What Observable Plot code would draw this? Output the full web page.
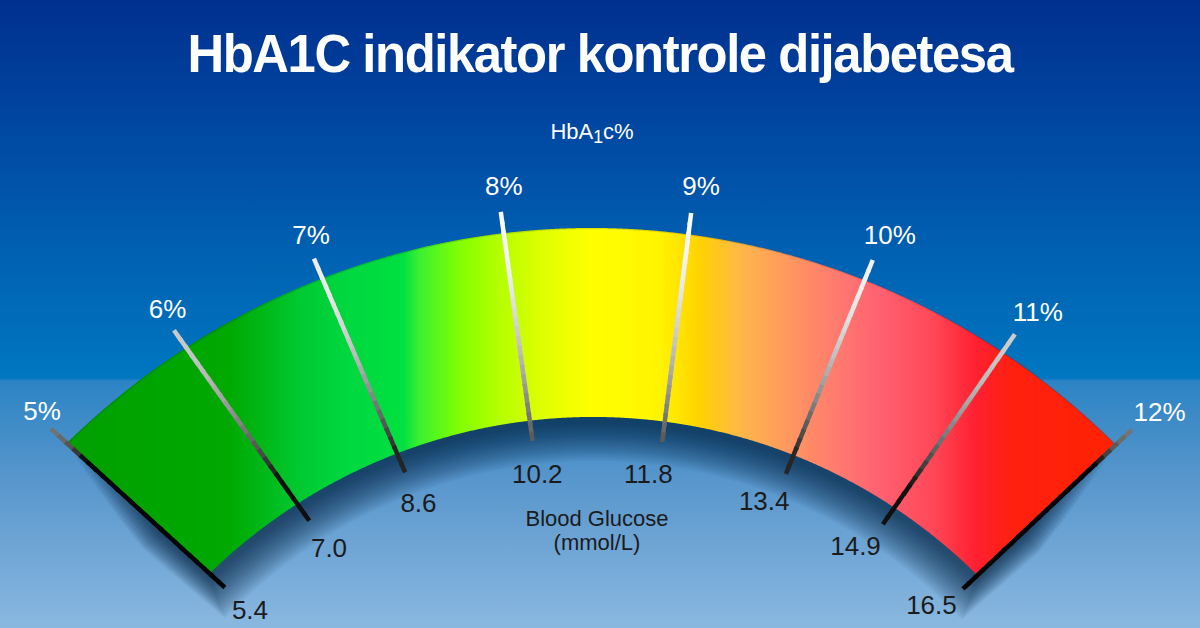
<!DOCTYPE html>
<html>
<head>
<meta charset="utf-8">
<script src="https://cdn.jsdelivr.net/npm/d3@7"></script>
<script src="https://cdn.jsdelivr.net/npm/@observablehq/plot@0.6"></script>
<style>
  html, body { margin: 0; padding: 0; width: 1200px; height: 628px; overflow: hidden; }
  body {
    background: linear-gradient(to bottom, #00308f 0px, #0048a2 130px, #0062b2 260px, #0077c0 378px, #2c84c4 381px, #5896cc 480px, #8ab8e0 628px);
    font-family: "Liberation Sans", Arial, sans-serif;
  }
  figure { margin: 0 !important; padding: 0; }
  figure > h2 {
    margin: 0 !important; height: 106px; line-height: 106px !important;
    font-size: 54px !important; font-weight: bold !important; color: #fff !important;
    text-align: center; letter-spacing: -1.5px; transform: scaleX(0.94);
    font-family: "Liberation Sans", Arial, sans-serif;
  }
  figure > h3 {
    margin: 0 !important; height: 51px; line-height: 51px !important;
    font-size: 22px !important; font-weight: normal !important; color: #fff !important;
    text-align: center; padding-right: 16px;
    font-family: "Liberation Sans", Arial, sans-serif;
  }
  figure > h3 sub { font-size: 0.8em; vertical-align: -0.2em; line-height: 0; }
  svg { display: block; }
</style>
</head>
<body>
<div id="chart"></div>
<script>
// ---------------- data ----------------
const hba1c = [5, 6, 7, 8, 9, 10, 11, 12];                       // HbA1c %
const glucose = [5.4, 7.0, 8.6, 10.2, 11.8, 13.4, 14.9, 16.5];   // mmol/L
const titleText = "HbA1C indikator kontrole dijabetesa";
const topAxisTitle = ["HbA", "1", "c%"];
const bottomAxisTitle = ["Blood Glucose", "(mmol/L)"];

// ---------------- style / layout ----------------
const arcColors  = ["#00a000", "#00a800", "#00c830", "#00d840", "#00e040", "#3af030", "#80ff00", "#b4ff00", "#dcff00", "#ffff00", "#fff400", "#ffd200", "#ffb848", "#ff9660", "#ff7870", "#ff6070", "#ff4858", "#ff2030", "#ff2010", "#ff2200"];
const arcOffsets = [0, 0.153, 0.221, 0.268, 0.321, 0.336, 0.374, 0.412, 0.451, 0.499, 0.566, 0.604, 0.642, 0.690, 0.738, 0.777, 0.825, 0.868, 0.901, 1];

const HEADER = 157;          // px taken by title + subtitle
const W = 1200, H = 628 - HEADER;
const CY = 930;              // gauge pivot (page px)
// perspective gauge: HbA1c value -> angle (degrees from vertical)
const angle = d3.scaleLinear().domain(hba1c).range([-47.6, -35.4, -23.1, -7.9, 7.2, 22.1, 34.8, 46.7]);
const rOuter = t => 702 + 0.00582 * t * t - 0.1432 * t;
const rInner = t => 513 + 0.00463 * t * t - 0.1093 * t;
const rad = d => d * Math.PI / 180;
const pt = (t, r) => ({u: r * Math.sin(rad(t)), v: r * Math.cos(rad(t))});

const lo = d3.min(hba1c), hi = d3.max(hba1c);
const tLo = angle(lo), tHi = angle(hi);
const M = 2000;
const outerCurve = d3.range(M + 1).map(k => { const t = tLo + (tHi - tLo) * k / M; return pt(t, rOuter(t)); });
const innerCurve = d3.range(M + 1).map(k => { const t = tLo + (tHi - tLo) * k / M; return pt(t, rInner(t)); });
const bis = d3.bisector(p => p.u).left;
function vAt(curve, u) {
  const i = Math.max(1, Math.min(curve.length - 1, bis(curve, u)));
  const a = curve[i - 1], b = curve[i];
  return a.v + (b.v - a.v) * (u - a.u) / (b.u - a.u);
}
const oL = outerCurve[0], oR = outerCurve[M], iL = innerCurve[0], iR = innerCurve[M];
function bottomAt(u) {
  if (u <= iL.u) return oL.v + (iL.v - oL.v) * (u - oL.u) / (iL.u - oL.u);
  if (u >= iR.u) return oR.v + (iR.v - oR.v) * (u - oR.u) / (iR.u - oR.u);
  return vAt(innerCurve, u);
}
const colorAt = d3.scaleLinear(arcOffsets, arcColors).clamp(true);
// vertical 1px strips (horizontal colour gradient like the original)
const strips = [];
const uA = Math.floor(oL.u), uB = Math.ceil(oR.u);
for (let u0 = uA; u0 < uB; u0++) {
  const c = colorAt((u0 + 0.5 - oL.u) / (oR.u - oL.u));
  for (const uu of [Math.max(u0, oL.u), Math.min(u0 + 1, oR.u)]) {
    strips.push({k: u0, u: uu, top: vAt(outerCurve, uu), bot: bottomAt(uu), c});
  }
}

// soft shadow layers under the band
const LAY = 26;
const shadow = d3.range(1, LAY + 1).flatMap(j => {
  const ext = 0.085 * j;
  return d3.range(121).map(k => {
    const t = (tLo - ext) + (tHi - tLo + 2 * ext) * k / 120;
    const o = pt(t, rOuter(t) - 6 - 4.5 * j), i = pt(t, rInner(t) - 1.5 * j);
    return {j, x1: o.u, y1: o.v, x2: i.u, y2: i.v};
  });
});

// tick segments with metallic shading
const topL = d3.scaleLinear([8, 22, 35, 47], [0.98, 0.95, 0.80, 0.45]).clamp(true);
const botL = d3.scaleLinear([8, 22, 35, 47], [0.33, 0.15, 0.06, 0.02]).clamp(true);
const fadeL = d3.scaleLinear([8, 22, 35, 47], [1.0, 0.9, 0.8, 0.2]).clamp(true);
const N = 24;
const rows = hba1c.map((h, i) => ({h, g: glucose[i], t: angle(h)}));
const segs = rows.flatMap(d => {
  const r0 = rOuter(d.t) + 22, r1 = rInner(d.t) - 20, a = Math.abs(d.t);
  return d3.range(N).map(j => {
    const s0 = j / N, s1 = Math.min(1, (j + 1.3) / N);
    const p0 = pt(d.t, r0 + (r1 - r0) * s0), p1 = pt(d.t, r0 + (r1 - r0) * s1);
    const k = Math.min(1, ((j + 0.5) / N) / fadeL(a));
    const l = topL(a) + (botL(a) - topL(a)) * k * k;
    const c = Math.round(l * 255);
    return {x1: p0.u, y1: p0.v, x2: p1.u, y2: p1.v, c: `rgb(${c},${c},${c})`};
  });
});
const pctPos = d => pt(d.t + 0.5, 750 + 0.0055 * d.t * d.t);
const gluPos = d => pt(d.t + (d.t > 0 ? -1.2 : 0), rInner(d.t) - 54);

const subtitle = document.createElement("h3");
subtitle.append(topAxisTitle[0]);
const sub = document.createElement("sub"); sub.textContent = topAxisTitle[1];
subtitle.append(sub, topAxisTitle[2]);

const fig = Plot.plot({
  width: W, height: H,
  margin: 0,
  title: titleText,
  subtitle,
  style: {background: "transparent", fontFamily: "Liberation Sans, Arial, sans-serif", overflow: "visible"},
  x: {domain: [-600, 600], axis: null},
  y: {domain: [CY - 628, CY - HEADER], axis: null},
  color: {type: "identity"},
  marks: [
    Plot.area(shadow, {x1: "x1", y1: "y1", x2: "x2", y2: "y2", z: "j", fill: "#08223e", fillOpacity: 0.036, dy: 5}),
    Plot.area(strips, {x1: "u", y1: "top", y2: "bot", z: "k", fill: "c"}),
    Plot.line(outerCurve, {x: "u", y: "v", stroke: "#000", strokeOpacity: 0.12, strokeWidth: 1.5}),
    Plot.link(segs, {x1: "x1", y1: "y1", x2: "x2", y2: "y2", stroke: "c", strokeWidth: 4.5, strokeLinecap: "butt"}),
    Plot.text(rows, {
      x: d => pctPos(d).u, y: d => pctPos(d).v,
      text: d => d.h + "%", fill: "#ffffff", fontSize: 26
    }),
    Plot.text(rows, {
      x: d => gluPos(d).u, y: d => gluPos(d).v,
      text: d => d.g.toFixed(1), fill: "#1b1b1b", fontSize: 26
    }),
    Plot.text([bottomAxisTitle.join("\n")], {
      x: () => pt(-0.5, 400).u, y: () => pt(-0.5, 400).v,
      text: d => d, fill: "#1b1b1b", fontSize: 22, lineHeight: 1.1
    })
  ]
});

document.getElementById("chart").appendChild(fig);
</script>
</body>
</html>
